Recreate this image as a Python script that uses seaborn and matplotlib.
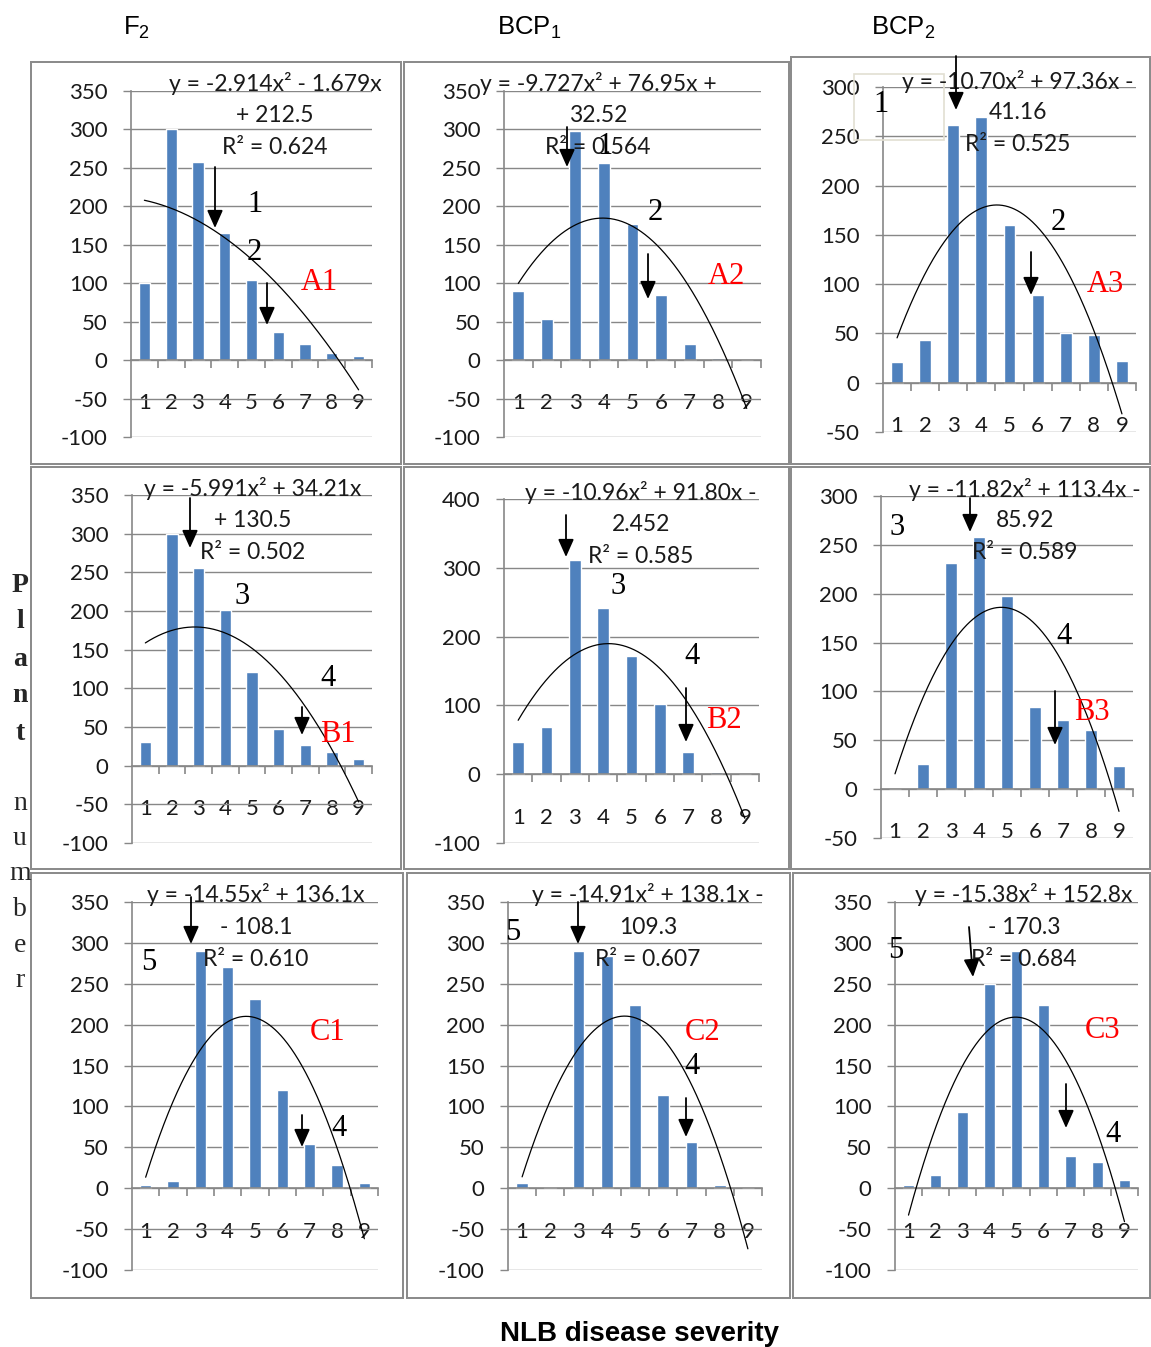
import numpy as np
import pandas as pd
import matplotlib
matplotlib.use("Agg")
import matplotlib.pyplot as plt
import seaborn as sns
from matplotlib.patches import Rectangle, FancyArrowPatch, ArrowStyle

sns.set_theme(style="white")
plt.rcParams["font.family"] = ["Lato", "DejaVu Sans"]
plt.rcParams["axes.unicode_minus"] = False
plt.rcParams["mathtext.fontset"] = "custom"
plt.rcParams["mathtext.rm"] = "Liberation Sans"
plt.rcParams["mathtext.it"] = "Liberation Sans:italic"
plt.rcParams["mathtext.bf"] = "Liberation Sans:bold"

# ---------------------------------------------------------------- data
severity = ["1", "2", "3", "4", "5", "6", "7", "8", "9"]

counts_A1 = [100, 300, 258, 165, 104, 37, 21, 9, 5]
counts_A2 = [90, 54, 298, 257, 177, 85, 21, 3, 0]
counts_A3 = [21, 43, 261, 270, 160, 89, 50, 48, 22]
counts_B1 = [31, 300, 255, 201, 121, 48, 27, 18, 9]
counts_B2 = [47, 69, 312, 242, 172, 102, 32, 3, 0]
counts_B3 = [0, 26, 231, 258, 198, 84, 71, 61, 24]
counts_C1 = [4, 9, 290, 271, 231, 120, 54, 28, 6]
counts_C2 = [6, 2, 290, 284, 224, 114, 56, 4, 0]
counts_C3 = [4, 16, 93, 250, 290, 224, 39, 32, 10]

# quadratic trend lines: a, b, c  (y = a x^2 + b x + c)
coef_A1 = [-2.914, -1.679, 212.5]
coef_A2 = [-9.727, 76.95, 32.52]
coef_A3 = [-10.70, 97.36, -41.16]
coef_B1 = [-5.991, 34.21, 130.5]
coef_B2 = [-10.96, 91.80, -2.452]
coef_B3 = [-11.82, 113.4, -85.92]
coef_C1 = [-14.55, 136.1, -108.1]
coef_C2 = [-14.91, 138.1, -109.3]
coef_C3 = [-15.38, 152.8, -170.3]

r2_values = {"A1": 0.624, "A2": 0.564, "A3": 0.525,
             "B1": 0.502, "B2": 0.585, "B3": 0.589,
             "C1": 0.610, "C2": 0.607, "C3": 0.684}

column_titles = ["F$_2$", "BCP$_1$", "BCP$_2$"]
x_title = "NLB disease severity"
y_title_bold = "Plant"
y_title_rest = "number"

# ---------------------------------------------------------------- layout
W, H = 1151, 1347
fig = plt.figure(figsize=(W / 100, H / 100), dpi=100)
PT = 72 / 100  # points per pixel

BLUE = "#4F81BD"
GRID = "#878787"
FRAME = "#8c8c8c"
INK = "#1a1a1a"


def fx(px):
    return px / W


def fy(py):
    return 1 - py / H


# name: counts, coef, axes box (x0, x1, ytop, ybottom), y range, y step,
#       equation wrap, equation position (cx, y1, y2, y3)
panels = {
    "A1": (counts_A1, coef_A1, (131, 372, 91, 437), (-100, 350), 50, "head", (275, 83, 114, 146)),
    "A2": (counts_A2, coef_A2, (504, 761, 91, 437), (-100, 350), 50, "tail", (598, 83, 114, 146)),
    "A3": (counts_A3, coef_A3, (883, 1136, 87, 432), (-50, 300), 50, "tail", (1018, 81, 111, 143)),
    "B1": (counts_B1, coef_B1, (132, 372, 495, 843), (-100, 350), 50, "head", (253, 488, 519, 551)),
    "B2": (counts_B2, coef_B2, (504, 759, 499, 843), (-100, 400), 100, "tail", (641, 492, 523, 555)),
    "B3": (counts_B3, coef_B3, (881, 1133, 496, 838), (-50, 300), 50, "tail", (1025, 489, 519, 551)),
    "C1": (counts_C1, coef_C1, (132, 378, 902, 1270), (-100, 350), 50, "head", (256, 894, 926, 958)),
    "C2": (counts_C2, coef_C2, (508, 762, 902, 1270), (-100, 350), 50, "tail", (648, 894, 926, 958)),
    "C3": (counts_C3, coef_C3, (895, 1138, 902, 1270), (-100, 350), 50, "head", (1024, 894, 926, 958)),
}

# panel frames
frames = [(31, 62, 401, 464), (404, 62, 789, 464), (791, 57, 1150, 464),
          (31, 467, 401, 869), (404, 467, 789, 869), (791, 467, 1150, 869),
          (31, 873, 403, 1298), (407, 873, 790, 1298), (793, 873, 1150, 1298)]
for (x0, y0, x1, y1) in frames:
    fig.add_artist(Rectangle((fx(x0), fy(y1)), (x1 - x0) / W, (y1 - y0) / H,
                             transform=fig.transFigure, fill=False,
                             edgecolor=FRAME, lw=2 * PT))


def num(v):
    return format(abs(v), "#.4g")


def equation_lines(coef, r2, wrap):
    a, b, c = coef
    sb = "+" if b >= 0 else "-"
    sc = "+" if c >= 0 else "-"
    first = f"y = {'-' if a < 0 else ''}{num(a)}x\u00b2 {sb} {num(b)}x"
    if wrap == "tail":
        first += f" {sc}"
        second = num(c)
    else:
        second = f"{sc} {num(c)}"
    return [first, second, f"R\u00b2 = {r2:.3f}"]


xs = np.linspace(1, 9, 300)
for name, (counts, coef, box, yr, ystep, wrap, eqpos) in panels.items():
    x0, x1, yt, yb = box
    ax = fig.add_axes([fx(x0), fy(yb), (x1 - x0) / W, (yb - yt) / H])
    df = pd.DataFrame({"severity": severity, "plants": counts})
    sns.barplot(data=df, x="severity", y="plants", color=BLUE, saturation=1,
                width=0.42, errorbar=None, ax=ax, zorder=2)
    a, b, c = coef
    ax.plot(xs - 1, a * xs ** 2 + b * xs + c, color="black", lw=0.9, zorder=3)

    ax.set_xlim(-0.5, 8.5)
    ax.set_ylim(*yr)
    ax.set_yticks(np.arange(yr[0], yr[1] + 1, ystep))
    ax.yaxis.grid(True, color=GRID, lw=1.0)
    ax.xaxis.grid(False)
    ax.set_axisbelow(True)
    ax.patch.set_alpha(0)
    for s in ("top", "right"):
        ax.spines[s].set_visible(False)
    ax.spines["left"].set_color(GRID)
    ax.spines["left"].set_linewidth(1.2)
    ax.spines["bottom"].set_position(("data", 0))
    ax.spines["bottom"].set_color(GRID)
    ax.spines["bottom"].set_linewidth(1.2)

    ax.set_xticks(range(9))
    ax.set_xticklabels(severity)
    ax.set_xticks(np.arange(0.5, 9, 1.0), minor=True)
    ax.tick_params(axis="x", which="major", length=0, pad=24, labelsize=16,
                   labelcolor=INK)
    ax.tick_params(axis="x", which="minor", length=8 * PT, width=1.2,
                   color=GRID, direction="out", bottom=True)
    ax.tick_params(axis="y", length=8 * PT, width=1.0, color=GRID, pad=11,
                   labelsize=16, labelcolor=INK, left=True)
    ax.set_xlabel("")
    ax.set_ylabel("")

    cx, ly1, ly2, ly3 = eqpos
    for txt, yy in zip(equation_lines(coef, r2_values[name], wrap), (ly1, ly2, ly3)):
        fig.text(fx(cx), fy(yy + 8), txt, ha="center", va="baseline",
                 fontsize=16.5, color=INK)

# ---------------------------------------------------------------- annotations
arrow_style = ArrowStyle("-|>", head_length=0.45, head_width=0.2)


def arrow(xa, ya, xb, yb):
    fig.add_artist(FancyArrowPatch((fx(xa), fy(ya)), (fx(xb), fy(yb)),
                                   transform=fig.transFigure,
                                   arrowstyle=arrow_style, mutation_scale=24,
                                   color="black", lw=1.3, shrinkA=0, shrinkB=0,
                                   zorder=10))


def mark(x, y, s, color="black"):
    fig.text(fx(x), fy(y), s, ha="center", va="center", fontsize=22,
             family="Liberation Serif", color=color, zorder=10)


arrows = [(215, 167, 215, 228), (267, 283, 267, 325),
          (567, 127, 567, 167), (648, 254, 648, 299),
          (956, 56, 956, 110), (1031, 252, 1031, 295),
          (190, 498, 190, 548), (302, 707, 302, 735),
          (566, 515, 566, 557), (686, 688, 686, 742),
          (970, 498, 970, 532), (1055, 691, 1055, 745),
          (191, 897, 191, 944), (302, 1115, 302, 1147),
          (578, 902, 578, 944), (686, 1098, 686, 1137),
          (969, 927, 973, 977), (1066, 1084, 1066, 1128)]
for a_ in arrows:
    arrow(*a_)

numbers = [(255, 205, "1"), (254, 253, "2"),
           (605, 146, "1"), (655, 213, "2"),
           (881, 104, "1"), (1058, 222, "2"),
           (242, 596, "3"), (328, 678, "4"),
           (618, 587, "3"), (692, 656, "4"),
           (897, 528, "3"), (1064, 637, "4"),
           (149, 963, "5"), (339, 1128, "4"),
           (513, 933, "5"), (692, 1066, "4"),
           (896, 950, "5"), (1113, 1135, "4")]
for x, y, s in numbers:
    mark(x, y, s)

panel_tags = [(319, 283, "A1"), (726, 277, "A2"), (1105, 285, "A3"),
              (338, 734, "B1"), (724, 720, "B2"), (1092, 712, "B3"),
              (328, 1033, "C1"), (703, 1033, "C2"), (1103, 1031, "C3")]
for x, y, s in panel_tags:
    mark(x, y, s, color="#ff0000")

fig.add_artist(Rectangle((fx(854), fy(140)), 90 / W, 66 / H,
                         transform=fig.transFigure, fill=False,
                         edgecolor="#e2dfd2", lw=1.2))

# ---------------------------------------------------------------- titles
for x, t in zip((123, 497, 871), column_titles):
    fig.text(fx(x), fy(35), t, ha="left", va="baseline", fontsize=18.5,
             family="Liberation Sans", color="black")

fig.text(fx(640), fy(1341), x_title, ha="center", va="baseline", fontsize=20,
         family="Liberation Sans", fontweight="bold", color="black")

for i, ch in enumerate(y_title_bold):
    fig.text(fx(20), fy(585 + 37 * i), ch, ha="center", va="center",
             fontsize=20, family="Liberation Serif", fontweight="bold")
for i, ch in enumerate(y_title_rest):
    fig.text(fx(20), fy(803 + 35.5 * i), ch, ha="center", va="center",
             fontsize=20, family="Liberation Serif")

fig.savefig("out.png", dpi=100, facecolor="white")
